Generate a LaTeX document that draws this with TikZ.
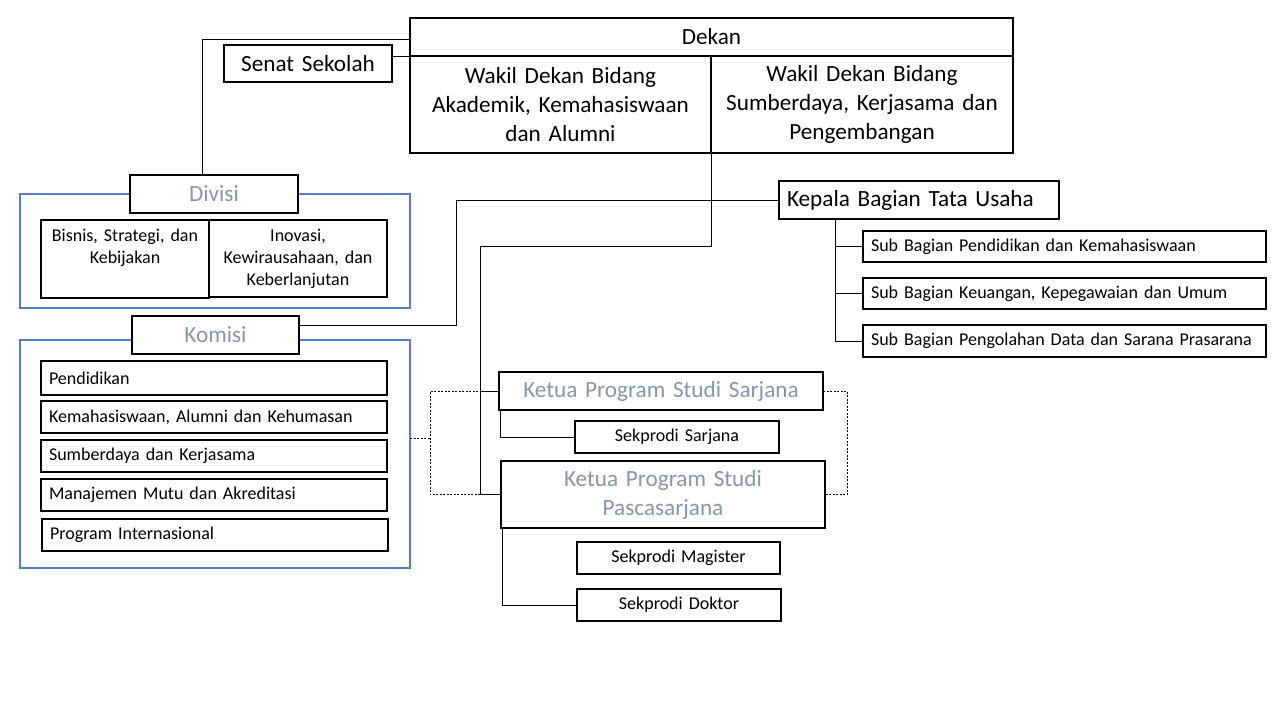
\documentclass[tikz,border=0pt]{standalone}
\usepackage{fontspec}
\setmainfont{Carlito}
\definecolor{frameblue}{HTML}{5A7FBE}
\definecolor{lblgray}{HTML}{8497B0}
\newcommand\fS{\fontsize{18}{22}\selectfont}
\newcommand\fL{\fontsize{23.2}{29}\selectfont}
\newcommand\bx[7]{%
  \pgfmathsetmacro\myBW{#4-#2}%
  \pgfmathsetmacro\myBH{#5-#3}%
  \pgfmathsetmacro\myTW{#4-#2-16}%
  \node[box,minimum width=\myBW pt,minimum height=\myBH pt,text width=\myTW pt,#6] (#1) at ({(#2+#4)/2},{(#3+#5)/2}) {#7};}
\begin{document}
\begin{tikzpicture}[x=1pt,y=-1pt,
  box/.style={draw=black,line width=1.6pt,fill=white,inner ysep=0pt,inner xsep=8pt,outer sep=0pt,align=center,font=\fS},
  frm/.style={draw=frameblue,fill=none},
  lbl/.style={text=lblgray,font=\fL},
  big/.style={font=\fL},
  lft/.style={align=left},
  conn/.style={draw=black,line width=0.8pt},
  dconn/.style={draw=black,line width=0.7pt,dash pattern=on 2pt off 1.5pt}]
\useasboundingbox (0,0) rectangle (1280,720);
\fill[white] (0,0) rectangle (1280,720);
% frames
\bx{dframe}{20}{194}{410}{308}{frm}{}
\bx{kframe}{20}{340}{410}{568}{frm}{}
% Divisi
\bx{divisi}{130}{175}{298}{213}{lbl}{Divisi}
\bx{bisnis}{41}{220}{209}{298}{}{}
\node[font=\fS,align=center,text width=166pt,anchor=north,inner sep=0pt] (bisnistxt) at (125,229) {Bisnis, Strategi, dan\\Kebijakan};
\bx{inovasi}{209}{220}{387}{297}{}{Inovasi,\\Kewirausahaan, dan\\Keberlanjutan}
% Komisi
\bx{komisi}{132}{316}{299}{354}{lbl}{Komisi}
\bx{k1}{41}{361}{387}{395}{lft}{Pendidikan}
\bx{k2}{41}{401}{387}{433}{lft}{Kemahasiswaan, Alumni dan Kehumasan}
\bx{k3}{41}{440}{387}{472}{lft}{Sumberdaya dan Kerjasama}
\bx{k4}{41}{479}{387}{511}{lft}{Manajemen Mutu dan Akreditasi}
\bx{k5}{42}{519}{388}{551}{lft}{Program Internasional}
% top
\bx{dekan}{410}{18}{1013}{56}{big}{Dekan}
\bx{wd1}{410}{56}{711}{153}{big}{Wakil Dekan Bidang\\Akademik, Kemahasiswaan\\dan Alumni}
\bx{wd2}{711}{56}{1013}{153}{big}{Wakil Dekan Bidang\\Sumberdaya, Kerjasama dan\\Pengembangan}
\bx{senat}{224}{45}{392}{82}{big}{Senat Sekolah}
% Tata Usaha
\bx{kepala}{779}{181}{1059}{219}{big,lft}{Kepala Bagian Tata Usaha}
\bx{s1}{863}{231}{1266}{262}{lft}{Sub Bagian Pendidikan dan Kemahasiswaan}
\bx{s2}{863}{278}{1266}{309}{lft}{Sub Bagian Keuangan, Kepegawaian dan Umum}
\bx{s3}{863}{325}{1266}{357}{lft}{Sub Bagian Pengolahan Data dan Sarana Prasarana}
% Program studi
\bx{sarjana}{499}{372}{823}{410}{lbl}{Ketua Program Studi Sarjana}
\bx{seks}{575}{421}{779}{453}{}{Sekprodi Sarjana}
\bx{pasca}{501}{461}{825}{528}{lbl}{Ketua Program Studi\\Pascasarjana}
\bx{sekm}{577}{542}{780}{574}{}{Sekprodi Magister}
\bx{sekd}{577}{589}{781}{621}{}{Sekprodi Doktor}
% connectors
\draw[conn] ([yshift=7pt]senat.east) -- ([yshift=7pt]senat.east -| dekan.west);
\draw[conn] ([yshift=-2pt]dekan.west) -| ([xshift=-12pt]divisi.north);
\coordinate (kj) at (456,200);
\draw[conn] ([yshift=10pt]komisi.east) -| (kj) -- (kepala.west);
\coordinate (wj) at (480,246);
\draw[conn] (wd1.south east) |- (wj) |- (pasca.west);
\draw[conn] (wj |- sarjana.west) -- (sarjana.west);
\coordinate (kx) at (835,0);
\draw[conn] (kepala.south -| kx) |- (s1.west);
\draw[conn] (kepala.south -| kx) |- (s2.west);
\draw[conn] (kepala.south -| kx) |- (s3.west);
\draw[conn] ([xshift=1pt]sarjana.south west) |- (seks.west);
\draw[conn] ([xshift=1pt]pasca.south west) |- (sekd.west);
\coordinate (dl) at (430,438);
\coordinate (dr) at (847,0);
\draw[dconn] (kframe.east |- dl) -- (dl);
\draw[dconn] (sarjana.west) -| (dl |- pasca.west) -- (pasca.west);
\draw[dconn] (sarjana.east) -| (dr |- pasca.east) -- (pasca.east);
\end{tikzpicture}
\end{document}
